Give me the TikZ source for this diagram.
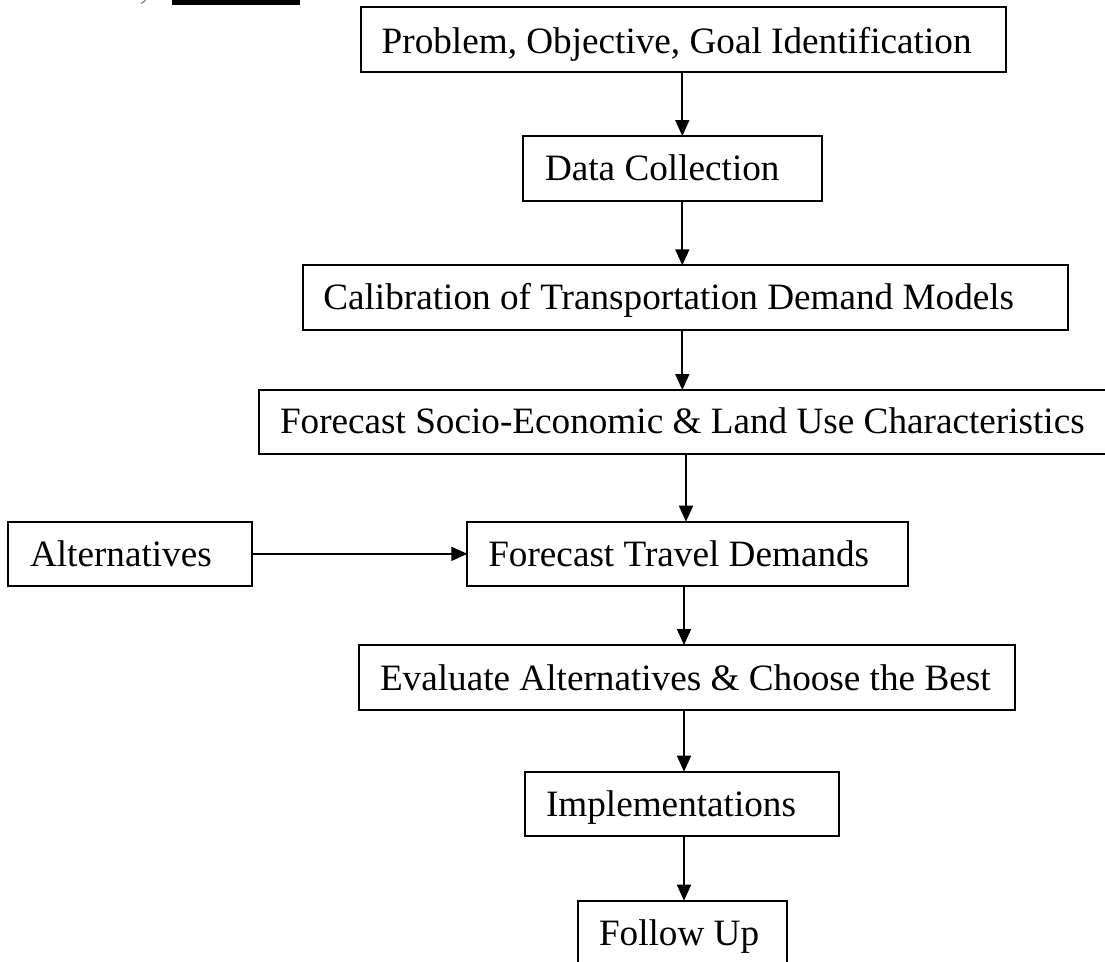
\documentclass[tikz,border=0pt]{standalone}
\usepackage{fontspec}
\setmainfont{Liberation Serif}
\usetikzlibrary{arrows.meta}
\begin{document}
\begin{tikzpicture}[x=1pt,y=-1pt,
  flowbox/.style={draw, line width=1.8pt, inner sep=0pt, outer sep=0pt, anchor=north west,
    font=\fontsize{37.2}{44}\selectfont},
  flowarrow/.style={line width=1.7pt, -{Triangle[length=16pt,width=14pt]}}]
\useasboundingbox (0,0) rectangle (1105,961);
\clip (0,0) rectangle (1105,961);
\fill[white] (0,0) rectangle (1105,961);

% cut-off heading fragment at the top left
\fill[black] (172,0) rectangle (300,4.7);
\draw[line width=1pt, black!60] (141.5,3.5) -- (145.5,0.3);

\node[flowbox, text height=46pt, text depth=18.4pt] (prob) at (360.7,7.3)
  {\makebox[645pt][l]{\hspace*{21pt}Problem, Objective, Goal Identification}};
\node[flowbox, text height=44.7pt, text depth=20pt] (data) at (523.3,136)
  {\makebox[299pt][l]{\hspace*{21.7pt}Data Collection}};
\node[flowbox, text height=44pt, text depth=20.7pt] (calib) at (302.7,265.3)
  {\makebox[765.3pt][l]{\hspace*{20.6pt}Calibration of Transportation Demand Models}};
\node[flowbox, text height=43.3pt, text depth=21pt] (socio) at (259,390)
  {\makebox[866pt][l]{\hspace*{21pt}Forecast Socio-Economic \& Land Use Characteristics}};
\node[flowbox, text height=45pt, text depth=19.3pt] (alt) at (8,521.7)
  {\makebox[244pt][l]{\hspace*{22pt}Alternatives}};
\node[flowbox, text height=45pt, text depth=19.3pt] (travel) at (467.3,521.7)
  {\makebox[440.4pt][l]{\hspace*{21pt}Forecast Travel Demands}};
\node[flowbox, text height=45pt, text depth=20pt] (eval) at (358.7,645)
  {\makebox[656.3pt][l]{\hspace*{21.3pt}Evaluate Alternatives \& Choose the Best}};
\node[flowbox, text height=45pt, text depth=19.3pt] (impl) at (525,771.7)
  {\makebox[314pt][l]{\hspace*{21pt}Implementations}};
\node[flowbox, text height=44.3pt, text depth=40pt] (follow) at (578.3,900.7)
  {\makebox[208.4pt][l]{\hspace*{20.7pt}Follow Up}};

\coordinate (c1) at (682.3,0);
\coordinate (c2) at (686,0);
\coordinate (c3) at (684,0);

\draw[flowarrow] (prob.south -| c1) -- (data.north -| c1);
\draw[flowarrow] (data.south -| c1) -- (calib.north -| c1);
\draw[flowarrow] (calib.south -| c1) -- (socio.north -| c1);
\draw[flowarrow] (socio.south -| c2) -- (travel.north -| c2);
\draw[flowarrow] (alt.east) -- (travel.west);
\draw[flowarrow] (travel.south -| c3) -- (eval.north -| c3);
\draw[flowarrow] (eval.south -| c3) -- (impl.north -| c3);
\draw[flowarrow] (impl.south -| c3) -- (follow.north -| c3);
\end{tikzpicture}
\end{document}
